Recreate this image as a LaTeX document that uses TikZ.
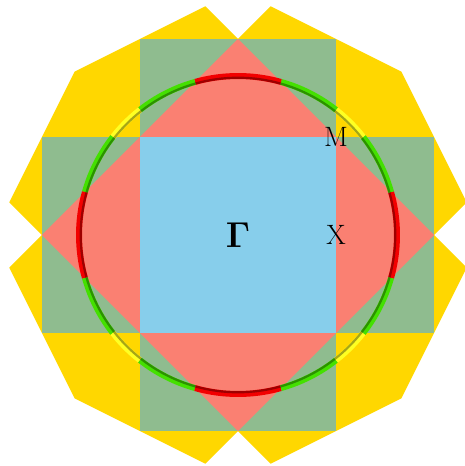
\RequirePackage{fix-cm}
\documentclass[tikz,border=0pt]{standalone}
\usepackage{amsmath}
\usepackage{xcolor}
\definecolor{zoneblue}{HTML}{87CEEB}
\definecolor{zonered}{HTML}{FA8072}
\definecolor{zonegreen}{HTML}{8FBC8F}
\definecolor{zoneyellow}{HTML}{FFD700}
\definecolor{arcred}{HTML}{F20000}
\definecolor{arcgreen}{HTML}{44E000}
\definecolor{arcyellow}{HTML}{FFFF22}

\begin{document}
\begin{tikzpicture}[x=98pt, y=98pt,
                    every node/.style={black, font=\fontsize{28}{31}\selectfont}]

\useasboundingbox (-2.42857,-2.35714) rectangle (2.31633,2.39796);

%% ==== 第四區: 黃色的星形外框 ========================================
\fill[zoneyellow]
  (2,0) -- (2.33333,0.33333) -- (2,1) -- (1.66667,1.66667) --
  (1,2) -- (0.33333,2.33333) -- (0,2) -- (-0.33333,2.33333) --
  (-1,2) -- (-1.66667,1.66667) -- (-2,1) -- (-2.33333,0.33333) --
  (-2,0) -- (-2.33333,-0.33333) -- (-2,-1) -- (-1.66667,-1.66667) --
  (-1,-2) -- (-0.33333,-2.33333) -- (0,-2) -- (0.33333,-2.33333) --
  (1,-2) -- (1.66667,-1.66667) -- (2,-1) -- (2.33333,-0.33333) -- cycle;

%% ==== 第三區: 十字形的綠色 ==========================================
\fill[zonegreen] (-1,-2) rectangle (1,2);
\fill[zonegreen] (-2,-1) rectangle (2,1);

%% ==== 第二區: 紅色菱形 ==============================================
\fill[zonered] (2,0) -- (0,2) -- (-2,0) -- (0,-2) -- cycle;

%% ==== 第一區: 藍色正方形 ============================================
\fill[zoneblue] (-1,-1) rectangle (1,1);

%% ==== 費米圓: 依所在的區上色 ========================================
\foreach \b in {0,90,180,270} {
  \draw[arcred, line width=6pt]
    (\b-15.68:1.6224) arc[start angle=\b-15.68, end angle=\b+15.68, radius=1.6224];
  \draw[arcgreen, line width=6pt]
    (\b+15.68:1.6224) arc[start angle=\b+15.68, end angle=\b+38.06, radius=1.6224];
  \draw[arcyellow, line width=6pt]
    (\b+38.06:1.6224) arc[start angle=\b+38.06, end angle=\b+51.94, radius=1.6224];
  \draw[arcgreen, line width=6pt]
    (\b+51.94:1.6224) arc[start angle=\b+51.94, end angle=\b+74.32, radius=1.6224];
}

%% 圓的內緣較暗
\draw[black, opacity=0.35, line width=2.2pt] (0,0) circle[radius=1.6049];

%% ==== 對稱點 ========================================================
\node (gamma) at (0,0) {\fontsize{36}{40}\selectfont$\mathbf{\Gamma}$};
\node (xpt)   at (1,0) {X};
\node (mpt)   at (1,1) {M};

\end{tikzpicture}
\end{document}
